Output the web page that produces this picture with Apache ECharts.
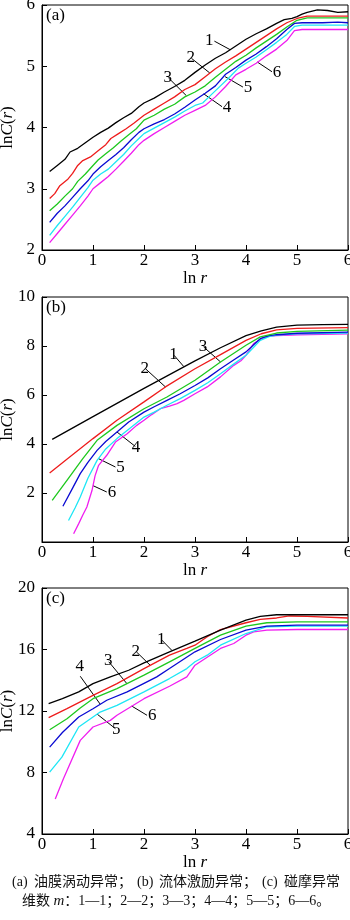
<!DOCTYPE html>
<html><head><meta charset="utf-8">
<script src="https://cdn.jsdelivr.net/npm/echarts@6/dist/echarts.min.js"></script>
<style>html,body{margin:0;padding:0;background:#fff}#c{width:350px;height:920px}</style>
</head><body><div id="c"></div>
<script>
// ---------- data (ln r, ln C(r)) ----------
const seriesNames = ['1','2','3','4','5','6'];
// panel (a)
const a1 = [[0.15,3.28],[0.3,3.38],[0.45,3.48],[0.55,3.6],[0.7,3.66],[0.85,3.75],[1.0,3.84],[1.15,3.92],[1.3,3.99],[1.45,4.08],[1.6,4.16],[1.75,4.23],[1.9,4.34],[2.0,4.4],[2.2,4.48],[2.4,4.58],[2.6,4.67],[2.8,4.77],[3.0,4.9],[3.2,5.02],[3.4,5.13],[3.6,5.22],[3.8,5.33],[4.0,5.44],[4.2,5.53],[4.4,5.61],[4.6,5.7],[4.75,5.76],[4.9,5.78],[5.0,5.81],[5.1,5.85],[5.2,5.88],[5.4,5.92],[5.6,5.91],[5.8,5.88],[6.0,5.89]];
const a2 = [[0.15,2.84],[0.25,2.92],[0.35,3.05],[0.5,3.15],[0.6,3.25],[0.7,3.38],[0.8,3.46],[0.95,3.52],[1.1,3.62],[1.25,3.72],[1.35,3.82],[1.5,3.9],[1.65,3.98],[1.8,4.07],[2.0,4.2],[2.2,4.3],[2.4,4.4],[2.6,4.5],[2.8,4.62],[3.0,4.7],[3.2,4.83],[3.4,4.96],[3.6,5.07],[3.8,5.17],[4.0,5.28],[4.2,5.39],[4.4,5.5],[4.6,5.61],[4.8,5.71],[5.0,5.78],[5.2,5.82],[5.5,5.82],[6.0,5.82]];
const a3 = [[0.15,2.64],[0.3,2.75],[0.45,2.88],[0.6,3.0],[0.7,3.12],[0.85,3.24],[1.0,3.38],[1.1,3.47],[1.25,3.57],[1.4,3.67],[1.55,3.78],[1.7,3.88],[1.85,3.98],[2.0,4.12],[2.2,4.2],[2.4,4.3],[2.6,4.38],[2.8,4.5],[3.0,4.58],[3.2,4.68],[3.4,4.82],[3.6,4.95],[3.8,5.08],[4.0,5.18],[4.2,5.3],[4.4,5.41],[4.6,5.52],[4.8,5.64],[5.0,5.75],[5.2,5.79],[6.0,5.79]];
const a4 = [[0.15,2.45],[0.3,2.6],[0.45,2.72],[0.6,2.86],[0.75,3.0],[0.9,3.13],[1.0,3.24],[1.15,3.36],[1.3,3.46],[1.45,3.56],[1.6,3.67],[1.75,3.8],[1.9,3.92],[2.0,3.98],[2.2,4.06],[2.4,4.13],[2.6,4.22],[2.8,4.33],[3.0,4.45],[3.2,4.56],[3.4,4.68],[3.6,4.87],[3.8,4.98],[4.0,5.1],[4.2,5.2],[4.4,5.32],[4.6,5.45],[4.8,5.6],[4.95,5.7],[5.1,5.71],[5.5,5.71],[5.8,5.72],[6.0,5.71]];
const a5 = [[0.15,2.24],[0.3,2.4],[0.45,2.55],[0.6,2.7],[0.75,2.86],[0.9,3.02],[1.0,3.14],[1.15,3.24],[1.3,3.32],[1.45,3.44],[1.6,3.56],[1.75,3.7],[1.9,3.82],[2.0,3.9],[2.2,3.99],[2.4,4.08],[2.6,4.17],[2.8,4.27],[3.0,4.36],[3.15,4.4],[3.3,4.52],[3.5,4.68],[3.7,4.84],[3.85,4.97],[4.0,5.05],[4.2,5.15],[4.4,5.27],[4.6,5.39],[4.8,5.52],[4.95,5.65],[5.1,5.67],[6.0,5.67]];
const a6 = [[0.15,2.12],[0.3,2.27],[0.45,2.42],[0.6,2.57],[0.75,2.72],[0.9,2.88],[1.0,3.0],[1.15,3.1],[1.3,3.2],[1.45,3.32],[1.6,3.45],[1.75,3.58],[1.9,3.72],[2.0,3.79],[2.2,3.9],[2.4,4.0],[2.6,4.1],[2.8,4.2],[3.0,4.28],[3.2,4.36],[3.4,4.5],[3.6,4.67],[3.8,4.86],[4.0,4.95],[4.2,5.05],[4.4,5.17],[4.6,5.28],[4.8,5.42],[4.95,5.58],[5.1,5.6],[6.0,5.6]];
// panel (b)
const b1 = [[0.2,4.19],[1.0,5.12],[2.0,6.27],[3.0,7.39],[3.5,7.93],[4.0,8.42],[4.3,8.62],[4.6,8.77],[5.0,8.85],[5.5,8.87],[6.0,8.88]];
const b2 = [[0.15,2.82],[0.5,3.4],[1.0,4.22],[1.47,4.97],[2.0,5.72],[2.42,6.33],[3.0,7.07],[3.5,7.65],[4.0,8.23],[4.3,8.5],[4.6,8.66],[5.0,8.72],[6.0,8.75]];
const b3 = [[0.2,1.7],[0.5,2.55],[0.8,3.4],[1.08,4.15],[1.47,4.76],[2.0,5.44],[2.45,5.92],[3.0,6.6],[3.5,7.35],[4.0,8.03],[4.28,8.37],[4.6,8.53],[5.0,8.6],[6.0,8.65]];
const b4 = [[0.41,1.46],[0.6,2.2],[0.75,2.79],[0.9,3.25],[1.08,3.74],[1.25,4.1],[1.47,4.49],[1.7,4.9],[2.0,5.3],[2.2,5.52],[2.45,5.78],[2.71,6.05],[3.0,6.39],[3.25,6.7],[3.5,7.07],[3.75,7.42],[4.0,7.76],[4.15,8.05],[4.28,8.3],[4.45,8.42],[4.6,8.46],[5.0,8.52],[6.0,8.57]];
const b5 = [[0.52,0.88],[0.65,1.4],[0.75,1.84],[0.9,2.6],[1.08,3.33],[1.25,3.8],[1.47,4.22],[1.7,4.6],[2.0,5.1],[2.2,5.3],[2.45,5.58],[2.71,5.85],[3.0,6.19],[3.25,6.5],[3.5,6.87],[3.75,7.25],[4.0,7.62],[4.15,7.95],[4.28,8.23],[4.45,8.38],[4.6,8.44],[5.0,8.5],[6.0,8.53]];
const b6 = [[0.62,0.34],[0.72,0.75],[0.8,1.1],[0.88,1.43],[0.98,2.1],[1.04,2.7],[1.11,3.13],[1.27,3.54],[1.44,4.08],[1.67,4.42],[1.85,4.75],[2.0,4.97],[2.15,5.2],[2.32,5.44],[2.5,5.55],[2.65,5.65],[2.78,5.78],[3.0,6.05],[3.24,6.33],[3.5,6.74],[3.76,7.21],[3.9,7.4],[4.0,7.62],[4.15,8.1],[4.35,8.37],[4.6,8.42],[5.0,8.46],[6.0,8.5]];
// panel (c)
const c1 = [[0.13,12.48],[0.4,12.8],[0.72,13.24],[1.0,13.78],[1.34,14.22],[1.7,14.65],[2.0,15.13],[2.5,15.85],[3.0,16.54],[3.5,17.26],[4.0,17.91],[4.28,18.15],[4.6,18.26],[5.0,18.26],[6.0,18.26]];
const c2 = [[0.13,11.57],[0.49,12.15],[1.0,13.02],[1.47,13.78],[2.0,14.76],[2.5,15.63],[2.84,16.07],[3.0,16.28],[3.24,16.83],[3.5,17.3],[4.0,17.74],[4.28,17.96],[4.6,18.05],[4.85,18.18],[5.2,18.15],[6.0,18.05]];
const c3 = [[0.15,10.78],[0.49,11.5],[0.75,12.2],[1.0,12.8],[1.47,13.46],[2.0,14.33],[2.5,15.2],[3.0,16.07],[3.5,16.93],[4.0,17.52],[4.41,17.74],[5.0,17.8],[6.0,17.8]];
const c4 = [[0.15,9.65],[0.4,10.6],[0.72,11.61],[1.0,12.15],[1.27,12.7],[1.67,13.24],[2.0,13.8],[2.25,14.22],[2.5,14.76],[3.0,15.85],[3.5,16.65],[4.0,17.26],[4.41,17.52],[5.0,17.58],[6.0,17.59]];
const c5 = [[0.15,8.02],[0.39,9.0],[0.72,10.96],[1.0,11.61],[1.14,11.93],[1.47,12.37],[2.0,13.24],[2.5,14.11],[2.84,14.76],[3.0,15.2],[3.24,15.63],[3.5,16.28],[4.0,17.04],[4.41,17.48],[5.0,17.52],[6.0,17.52]];
const c6 = [[0.26,6.28],[0.42,7.59],[0.75,10.09],[1.0,10.96],[1.34,11.39],[1.47,11.72],[2.0,12.8],[2.5,13.61],[2.84,14.22],[3.0,14.98],[3.5,16.07],[3.76,16.39],[4.0,16.93],[4.15,17.15],[4.41,17.26],[5.0,17.3],[6.0,17.3]];
// leader annotations: [x near text, y near text, x on curve, y on curve]
const leadA = [[3.38,5.41,3.69,5.27],[2.93,5.13,3.29,4.89],[2.48,4.81,2.83,4.52],[3.53,4.34,3.17,4.55],[3.94,4.66,3.59,4.83],[4.51,4.91,4.22,5.07]];
const leadB = [[2.59,7.62,2.78,7.16],[2.03,7.07,2.42,6.33],[3.17,7.96,3.5,7.35],[1.83,3.9,1.47,4.49],[1.44,3.06,1.11,3.4],[1.27,2.04,1.0,2.3]];
const leadC = [[2.35,16.61,2.55,15.93],[1.85,15.85,2.12,14.98],[1.31,15.2,1.67,13.76],[0.75,14.26,1.14,12.45],[1.44,10.85,1.08,11.8],[2.06,11.72,1.76,12.32]];
// axes
const xTicks = {min:0, max:6, interval:1};
const yA = {min:2, max:6, interval:1};
const yB = {min:0, max:10, interval:2};
const yC = {min:4, max:20, interval:4};
const panelTags = ['(a)','(b)','(c)'];

const colors = ['#000000','#ee1c1c','#1ec81e','#0a0ad2','#1ee6f5','#f01ef0'];
const SERIF = '"Liberation Serif","Times New Roman",serif';
const CJK = '"Liberation Serif","Noto Sans CJK SC",serif';

const grids = [
  {left:42, width:306, top:5, height:245},
  {left:42, width:306, top:297, height:245},
  {left:42, width:306, top:588, height:246}
];
const yRanges = [yA, yB, yC];
const panels = [[a1,a2,a3,a4,a5,a6],[b1,b2,b3,b4,b5,b6],[c1,c2,c3,c4,c5,c6]];
const leads = [leadA, leadB, leadC];

const xAxes = [], yAxes = [], series = [];
grids.forEach((g,i)=>{
  g.show = true; g.borderColor = '#000'; g.borderWidth = 1; g.containLabel = false; g.outerBoundsMode = 'none';
  xAxes.push({gridIndex:i, type:'value', min:xTicks.min, max:xTicks.max, interval:xTicks.interval,
    name:'{n|ln }{i|r}', nameLocation:'middle', nameGap:20, nameMoveOverlap:false,
    nameTextStyle:{color:'#000', fontFamily:SERIF, fontSize:17,
      rich:{n:{fontFamily:SERIF,fontSize:17,color:'#000'}, i:{fontFamily:SERIF,fontSize:17,fontStyle:'italic',color:'#000'}}},
    axisLine:{show:true, lineStyle:{color:'#000', width:1}},
    axisTick:{show:true, inside:true, length:5, lineStyle:{color:'#000'}},
    splitLine:{show:false},
    axisLabel:{color:'#000', fontFamily:SERIF, fontSize:17, margin:2}
  });
  const yr = yRanges[i];
  yAxes.push({gridIndex:i, type:'value', min:yr.min, max:yr.max, interval:yr.interval,
    name:'{n|ln}{i|C}{n|(}{i|r}{n|)}', nameLocation:'middle', nameGap:26, nameRotate:90, nameMoveOverlap:false,
    nameTextStyle:{color:'#000', fontFamily:SERIF, fontSize:17,
      rich:{n:{fontFamily:SERIF,fontSize:17,color:'#000'}, i:{fontFamily:SERIF,fontSize:17,fontStyle:'italic',color:'#000'}}},
    axisLine:{show:true, lineStyle:{color:'#000', width:1}},
    axisTick:{show:true, inside:true, length:5, lineStyle:{color:'#000'}},
    splitLine:{show:false},
    axisLabel:{color:'#000', fontFamily:SERIF, fontSize:17, margin:7, showMinLabel: i!==1}
  });
  panels[i].forEach((d,k)=>{
    const L = leads[i][k];
    series.push({type:'line', name:seriesNames[k], xAxisIndex:i, yAxisIndex:i, data:d,
      showSymbol:false, symbol:'none', smooth:false, animation:false, silent:true,
      lineStyle:{color:colors[k], width:1.3}, itemStyle:{color:colors[k]}, z: 10-k,
      markLine:{silent:true, symbol:'none', animation:false,
        lineStyle:{color:'#000', width:1, type:'solid'},
        label:{show:true, position:'start', formatter:seriesNames[k], color:'#000', fontFamily:SERIF, fontSize:17, distance:1},
        data:[[{coord:[L[0],L[1]]},{coord:[L[2],L[3]]}]]}
    });
  });
});

const tagY = [16, 308, 599];
const graphic = panelTags.map((t,i)=>({type:'text', left:46, top:tagY[i]-9,
  style:{text:t, font:'17px '+SERIF, fill:'#000'}}));
// caption line 1 (pieces)
const cap1 = [['(a)',12],['油膜涡动异常；',34],['(b)',137],['流体激励异常；',159],['(c)',262],['碰摩异常',284]];
cap1.forEach(p=>graphic.push({type:'text', left:p[1], top:875,
  style:{text:p[0], font:'14px '+CJK, fill:'#111'}}));
graphic.push({type:'text', left:22, top:894,
  style:{text:'维数 {i|m}：1—1；2—2；3—3；4—4；5—5；6—6。', font:'14px '+CJK, fill:'#111',
    rich:{i:{fontStyle:'italic', fontFamily:SERIF, fontSize:15, fill:'#111'}}}});

const chart = echarts.init(document.getElementById('c'), null, {renderer:'canvas'});
chart.setOption({animation:false, backgroundColor:'#fff', grid:grids, xAxis:xAxes, yAxis:yAxes, series:series, graphic:graphic});
</script></body></html>
